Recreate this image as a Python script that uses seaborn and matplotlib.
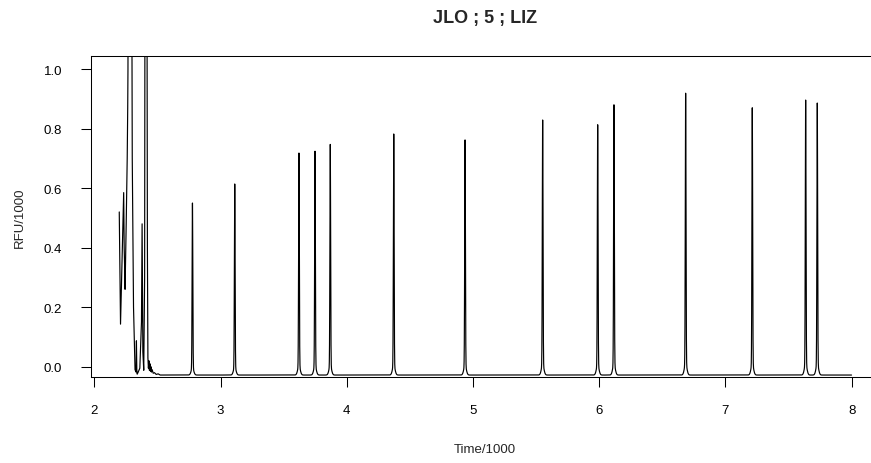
import numpy as np
import pandas as pd
import matplotlib
matplotlib.use("Agg")
import matplotlib.pyplot as plt
import seaborn as sns

# ---- data (time/1000, RFU/1000) ----
peak_times = [2.777, 3.112, 3.621, 3.748, 3.869, 4.372, 4.937,
              5.552, 5.988, 6.117, 6.685, 7.213, 7.636, 7.728]
peak_heights = [0.550, 0.614, 0.718, 0.724, 0.747, 0.782, 0.762,
                0.829, 0.813, 0.880, 0.919, 0.870, 0.896, 0.886]
baseline_level = -0.028

# early (primer / front) region traced vertex by vertex
front_times = [2.197, 2.207, 2.216, 2.224, 2.232, 2.236, 2.240, 2.243,
               2.252, 2.260, 2.264, 2.266, 2.271, 2.291, 2.300, 2.310,
               2.322, 2.330, 2.333, 2.336, 2.339, 2.345, 2.360, 2.373,
               2.378, 2.384, 2.391, 2.398, 2.404, 2.412, 2.420, 2.424,
               2.428, 2.432, 2.436, 2.440, 2.444, 2.448, 2.452, 2.458,
               2.466, 2.476, 2.490, 2.505, 2.520]
front_values = [0.520, 0.143, 0.300, 0.450, 0.585, 0.400, 0.330, 0.260,
                0.480, 0.700, 0.870, 1.000, 2.200, 2.200, 0.700, 0.200,
                -0.010, -0.018, 0.087, -0.010, -0.025, -0.020, -0.005, 0.150,
                0.480, 0.050, -0.012, 0.300, 2.600, 2.600, 0.400, 0.030,
                -0.005, 0.020, -0.012, 0.010, -0.015, 0.000, -0.018, -0.010,
                -0.022, -0.020, -0.026, -0.024, -0.028]
end_time = 8.0

x_ticks = [2, 3, 4, 5, 6, 7, 8]
y_ticks = [0.0, 0.2, 0.4, 0.6, 0.8, 1.0]
title_text = "JLO ; 5 ; LIZ"
x_label = "Time/1000"
y_label = "RFU/1000"

# ---- build the trace: traced front + peak list on a flat baseline ----
t_grid = np.arange(front_times[-1] + 0.0005, end_time, 0.0005)
sig = np.full_like(t_grid, baseline_level)
for pt, ph in zip(peak_times, peak_heights):
    amp = ph - baseline_level
    sig += amp * 0.96 * np.exp(-0.5 * ((t_grid - pt) / 0.0028) ** 2)
    sig += amp * 0.04 * np.exp(-0.5 * ((t_grid - pt) / 0.010) ** 2)

t_all = np.concatenate([front_times, t_grid])
v_all = np.concatenate([front_values, sig])
df = pd.DataFrame({"time": t_all, "rfu": v_all})

# ---- figure ----
sns.set_theme(style="white")
plt.rcParams["font.family"] = ["Liberation Sans", "DejaVu Sans"]

W, H = 871, 464
fig = plt.figure(figsize=(W / 100, H / 100), dpi=100)
left, right, top, bottom = 90.7, 879.0, 57.3, 378.3
ax = fig.add_axes([left / W, 1 - bottom / H, (right - left) / W, (bottom - top) / H])

sns.lineplot(data=df, x="time", y="rfu", ax=ax, color="black",
             linewidth=0.85, sort=False, estimator=None)

ax.set_xlim(1.9707, 8.2171)
ax.set_ylim(-0.0356, 1.043)
ax.set_xticks(x_ticks)
ax.set_xticklabels([str(v) for v in x_ticks])
ax.set_yticks(y_ticks)
ax.set_yticklabels([f"{v:.1f}" for v in y_ticks])
ax.set_xlabel("")
ax.set_ylabel("")
ax.tick_params(axis="both", direction="out", length=7.5, width=0.75,
               color="black", labelsize=9.5, labelcolor="black",
               bottom=True, left=True)
ax.tick_params(axis="x", pad=12)
ax.tick_params(axis="y", pad=13)
for s in ax.spines.values():
    s.set_visible(True)
    s.set_color("black")
    s.set_linewidth(0.75)

fig.text(485 / W, 1 - 19 / H, title_text, ha="center", va="center",
         fontsize=13, fontweight="bold")
fig.text(485 / W, 1 - 450 / H, x_label, ha="center", va="center", fontsize=9.5)
fig.text(20 / W, 1 - 217.8 / H, y_label, ha="center", va="center",
         rotation=90, fontsize=9.5)

fig.savefig("out.png", dpi=100, facecolor="white")
